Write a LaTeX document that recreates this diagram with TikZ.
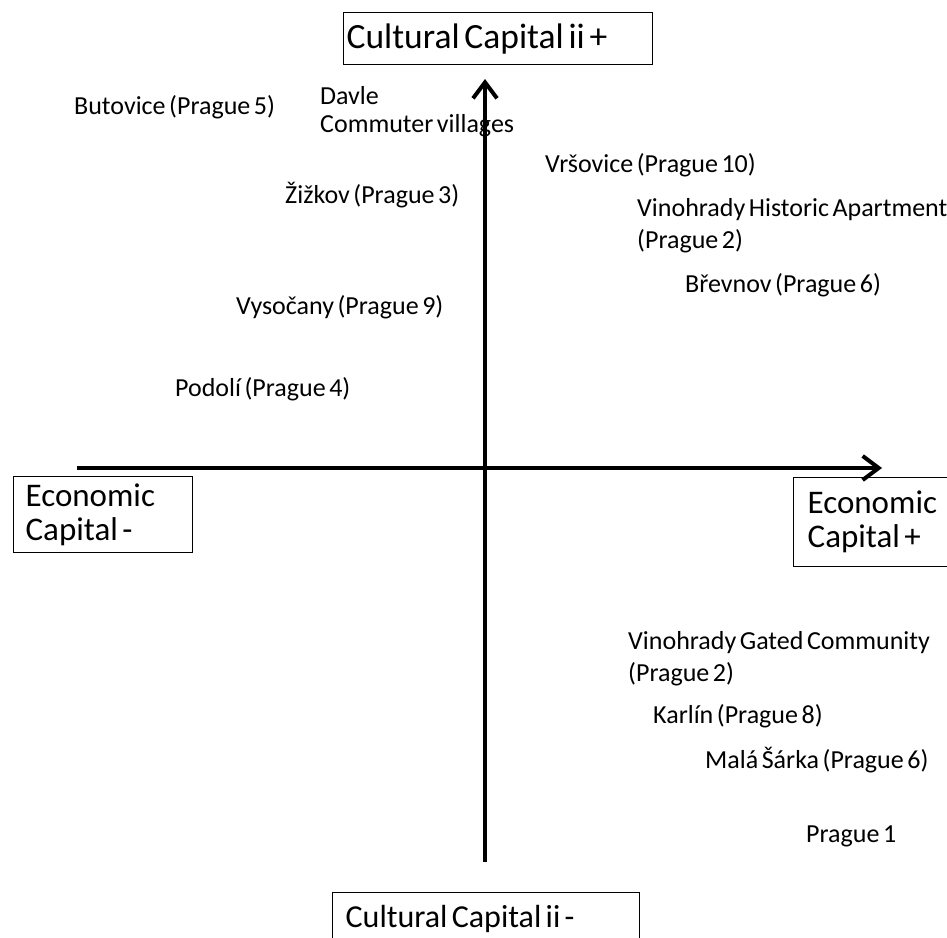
\documentclass[tikz,border=0pt]{standalone}
\usepackage{fontspec}
\setmainfont{Carlito}[WordSpace=0.6]
\usetikzlibrary{arrows.meta}
\newcommand{\padto}[2]{\makebox[#1][l]{#2}}
\begin{document}
\begin{tikzpicture}[x=1pt,y=-1pt,
  place/.style={anchor=west, inner sep=0pt, align=left,
    font=\fontsize{26}{32}\selectfont},
  capbox/.style={draw, line width=1.3pt, anchor=north west, align=left,
    inner ysep=0pt, font=\fontsize{33}{34}\selectfont},
  axis/.style={line width=4pt,
    -{Straight Barb[length=16pt,width=24pt,line width=4pt]}}]
\useasboundingbox (0,0) rectangle (947,937);
\clip (0,0) rectangle (947,937);

% axes
\coordinate (xl) at (77,468);
\coordinate (xr) at (882,468);
\coordinate (yb) at (485,862);
\coordinate (yt) at (485,79);
\draw[axis] (xl) -- (xr);
\draw[axis] (yb) -- (yt);

% axis end labels
\node[capbox, inner xsep=3pt, minimum height=52pt,
  font=\fontsize{35.5}{36}\selectfont]
  (cup) at (343,12) {\padto{303pt}{Cultural Capital ii +}};
\node[capbox, inner xsep=12pt, minimum height=76pt]
  (eminus) at (13,476) {\padto{155pt}{Economic}\\Capital -};
\node[capbox, inner xsep=14pt, minimum height=89pt]
  (eplus) at (793,477) {\padto{160pt}{Economic}\\Capital +};
\node[capbox, inner xsep=13pt, minimum height=52pt,
  font=\fontsize{32}{34}\selectfont]
  (cdown) at (332,892) {\padto{281pt}{Cultural Capital ii -}};

% districts
\node[place] (butovice) at (74,107) {Butovice (Prague 5)};
\node[place, font=\fontsize{26}{28}\selectfont] (davle) at (320,112)
  {Davle\\Commuter villages};
\node[place] (vrsovice) at (545,165) {Vršovice (Prague 10)};
\node[place] (zizkov) at (285,195) {Žižkov (Prague 3)};
\node[place] (vinohist) at (637,226) {Vinohrady Historic Apartment\\(Prague 2)};
\node[place] (brevnov) at (685,285) {Břevnov (Prague 6)};
\node[place] (vysocany) at (236,307) {Vysočany (Prague 9)};
\node[place] (podoli) at (175,389) {Podolí (Prague 4)};
\node[place] (vinogated) at (628,659) {Vinohrady Gated Community\\(Prague 2)};
\node[place] (karlin) at (653,716) {Karlín (Prague 8)};
\node[place] (sarka) at (705,760) {Malá Šárka (Prague 6)};
\node[place] (praha1) at (806,836) {Prague 1};
\end{tikzpicture}
\end{document}
